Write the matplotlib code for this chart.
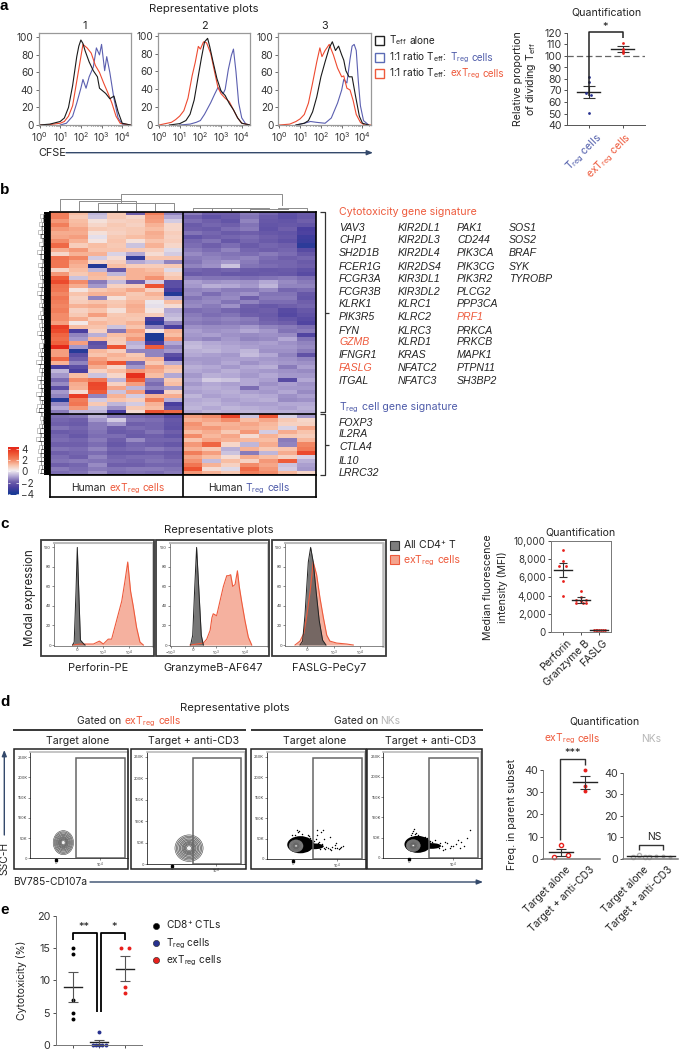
import numpy as np
import matplotlib
matplotlib.use("Agg")
import matplotlib.pyplot as plt
from matplotlib.colors import LinearSegmentedColormap
from matplotlib.patches import Ellipse, Rectangle
from matplotlib.ticker import NullFormatter, LogLocator, FuncFormatter

FONT = "Inter"
plt.rcParams["font.family"] = [FONT, "DejaVu Sans"]
plt.rcParams["mathtext.fontset"] = "custom"
plt.rcParams["mathtext.rm"] = FONT
plt.rcParams["mathtext.default"] = "regular"
plt.rcParams["axes.linewidth"] = 0.7

RED = "#ee5a3c"
BLUE = "#4f5caa"
INK = "#222222"
NAVY = "#34496b"
GREY = "#b5b5b5"
DOT_RED = "#e8201c"
DOT_BLUE = "#27318f"

# ---- panel a histograms: log10 CFSE, percent of max ----
a1_black_x = [0, .5, 1, 1.2, 1.4, 1.6, 1.8, 1.9, 2.0, 2.1, 2.2, 2.4, 2.6, 2.8, 2.9, 3.0, 3.2, 3.4, 3.6, 3.8, 4, 4.4]
a1_black_y = [0, 1, 4, 8, 20, 45, 78, 90, 97, 93, 85, 72, 62, 55, 42, 40, 36, 30, 33, 15, 2, 0]
a1_red_x = [0, .5, 1, 1.2, 1.4, 1.6, 1.8, 2, 2.1, 2.3, 2.5, 2.7, 2.9, 3.1, 3.3, 3.5, 3.7, 3.9, 4.4]
a1_red_y = [0, .5, 2, 4, 10, 22, 50, 78, 92, 88, 82, 68, 60, 48, 37, 25, 10, 2, 0]
a1_blue_x = [1, 1.3, 1.6, 1.8, 2, 2.1, 2.25, 2.4, 2.6, 2.75, 2.9, 3.0, 3.15, 3.25, 3.4, 3.6, 3.8, 4, 4.4]
a1_blue_y = [0, 2, 10, 25, 42, 52, 42, 55, 66, 88, 80, 92, 62, 78, 60, 30, 8, 1, 0]

a2_black_x = [.5, 1, 1.3, 1.5, 1.7, 1.9, 2.05, 2.2, 2.35, 2.45, 2.6, 2.8, 3, 3.2, 3.4, 3.6, 3.8, 4, 4.4]
a2_black_y = [0, 1.5, 5, 12, 28, 55, 75, 93, 97, 88, 72, 52, 38, 33, 24, 17, 8, 2, 0]
a2_red_x = [0, .4, .6, .8, 1, 1.2, 1.4, 1.6, 1.75, 1.9, 2, 2.15, 2.3, 2.5, 2.7, 2.85, 3, 3.2, 3.4, 3.6, 3.8, 4, 4.4]
a2_red_y = [0, 2, 3, 6, 10, 16, 30, 55, 70, 88, 85, 93, 92, 80, 58, 42, 35, 30, 26, 17, 8, 2, 0]
a2_blue_x = [1, 1.5, 1.8, 2, 2.2, 2.5, 2.7, 2.85, 3, 3.1, 3.2, 3.35, 3.5, 3.6, 3.72, 3.85, 4, 4.2, 4.4]
a2_blue_y = [0, 1, 3, 5, 12, 25, 35, 42, 38, 35, 40, 62, 78, 85, 60, 25, 8, 1, 0]

a3_black_x = [.8, 1.2, 1.4, 1.6, 1.8, 2, 2.2, 2.4, 2.55, 2.7, 2.85, 3, 3.1, 3.2, 3.35, 3.5, 3.65, 3.85, 4, 4.3]
a3_black_y = [0, 2, 5, 15, 32, 55, 72, 88, 95, 85, 90, 80, 74, 62, 55, 55, 35, 10, 2, 0]
a3_red_x = [0, .5, .8, 1, 1.2, 1.4, 1.6, 1.8, 1.95, 2.05, 2.2, 2.4, 2.6, 2.8, 3, 3.1, 3.25, 3.4, 3.55, 3.7, 3.9, 4.1, 4.4]
a3_red_y = [0, 1, 4, 7, 12, 25, 48, 72, 88, 78, 85, 92, 80, 65, 55, 56, 42, 40, 28, 12, 3, 0, 0]
a3_blue_x = [.8, 1.2, 1.5, 1.8, 2.2, 2.5, 2.8, 3, 3.1, 3.25, 3.4, 3.5, 3.6, 3.7, 3.8, 3.9, 4.05, 4.3]
a3_blue_y = [0, 2, 4, 3, 2, 8, 25, 40, 52, 48, 75, 90, 92, 85, 50, 22, 5, 0]

# ---- panel a quantification ----
a_q_treg = [82, 77, 68, 66, 50.5]
a_q_treg_jit = [0, 0, -.07, .07, 0]
a_q_extreg = [111, 106, 104, 103]
a_q_extreg_jit = [0, 0, 0, 0]
a_q_means = [69, 106]
a_q_sems = [5.3, 2.4]

# ---- panel b heatmap: z-scores per gene (rows) and sample (columns) ----
hm_top_left = [
 [2,1,-.8,.8,-2,2,-1.5],[2,.8,-.6,.8,.5,1.6,-1],[1.6,1,.3,.6,.7,1.5,-.5],[2,1.1,.5,.8,.6,1.2,.5],
 [1.6,1.4,.8,.7,.8,1,.5],[1.3,1.3,.3,.6,.8,1.3,.7],[1.4,1.5,-.2,.8,1,1.2,.6],[1.8,1.2,.2,.9,.3,.9,.7],
 [2.5,.7,1,.8,-.6,1.2,.5],[1.3,1.6,.9,.9,.8,.7,-.3],[.5,1.2,1.2,-.4,-1,.4,-.5],[2.3,1.9,-.5,.4,-3.5,.9,.9],
 [2.2,1.4,.5,.7,-1,-.7,-1.5],[2.2,1.2,-3.8,1,.7,.7,.8],[.5,1,-.8,-2.2,1.2,1,-.3],[1.6,.8,1.1,-.8,1.2,1.2,.6],
 [2.8,-.6,1,.8,1.2,1.7,.9],[3.2,1.8,-1.6,-.7,-2,-.5,-2.5],[2.3,1.3,-1.2,.6,.7,3,-2.5],[2.2,.2,.8,1,1.4,.6,-3],
 [1.9,.9,1.2,1.2,.8,1.2,-3.8],[2.2,.6,-1.5,.3,.9,.9,-1],[2,.7,.9,.8,1.1,-.1,1],[1.9,1.2,1.3,.9,1.3,-.2,.4],
 [2,.6,.9,.3,1.2,.2,-1],[1.8,.8,1.5,.8,.9,.7,-.8],[1.8,1.3,.7,.9,.8,-3,-.6],[1.5,.1,1.1,.9,1.2,-3.5,-1.5],
 [3.5,1,.9,-.6,.9,-1.5,-3],[3.2,-3,.6,-1.7,1.5,.2,1.2],[2.6,-1.5,-.9,1,1.2,-4,1],[2.4,-1.2,1.1,.8,1.6,-4,1.6],
 [2.7,1.5,-2.5,.7,-.9,-3,-1],[4,-1.2,-2.2,3,-.7,2.8,-1.5],[1.5,-3.7,1.1,.7,-1.5,-1.5,-1.2],[1.5,-2.5,.9,1.2,.8,-1.5,-2.5],
 [2.5,-2,1.5,1,1,1.2,-3],[1.2,-1.5,1.8,3,-1.8,.8,-1],[-3,-2.5,1.3,.5,-1.2,1.5,1],[-.8,-3,.6,1,1.6,1.3,.8],
 [-1.2,1,-.6,.5,3.8,1,-1],[-1.8,1.8,2.2,-.8,2.8,-1.5,.8],[-1.4,1.3,3.3,.6,1.5,-1.8,1],[-2.5,1.2,3.2,1.4,-.8,-1.5,-1.2],
 [-1.2,.4,2.8,-.6,1.5,-3,.6],[-1.5,3.5,-1.5,1.2,-.5,1.2,1.3],[-3.7,2,-.5,.9,.7,2,-.9],[-1.4,2.2,.8,-.8,-.5,1.2,-3],
 [-1,1.6,-.6,-1.3,.8,1,-2.5],[-1.6,-.8,-.8,-3,.4,3,2.5],
]
hm_top_right = [
 [-1.6,-2,-2,-1.6,-1.9,-2.4,-2.1],[-2,-2.4,-2.1,-1.7,-2.1,-2.5,-2.2],[-1.8,-2,-2.3,-1.5,-2.2,-2.3,-2],[-2.1,-1.9,-2,-1.7,-2.3,-2.2,-2.3],
 [-2,-2.1,-1.8,-1.6,-2.4,-2,-3],[-1.7,-1.9,-2.1,-2,-2.2,-2.3,-2.9],[-2.3,-2,-1.9,-1.8,-2,-2.2,-3.2],[-1.9,-1.7,-2.2,-1.9,-2.1,-2.4,-3.3],
 [-1.8,-2,-1.8,-2.1,-1.9,-2,-3.6],[-1.6,-1.8,-1.5,-1.9,-2,-1.9,-2.6],[-1.4,-1.6,-1.7,-1.8,-1.6,-1.8,-2.2],[-1.6,-1.5,-1.6,-1.5,-1.8,-2,-1.9],
 [-1.7,-1.4,-1.2,-1.6,-1.9,-1.9,-2.1],[-1.5,-1.3,-.6,-1.7,-1.8,-1.9,-2],[-1.9,-2,-1.9,-2.1,-2.2,-2.1,-2.4],[-2.1,-2,-2.2,-2.2,-2.1,-2.2,-2.6],
 [-1.6,-1.7,-1.7,-1.8,-1.7,-1.6,-1.8],[-1.1,-1.3,-1.2,-1.3,-1,-1.4,-1.6],[-1.2,-.9,-1,-1.2,-.8,-1.5,-1.5],[-1.5,-1.4,-1.6,-1.6,-1.4,-1.9,-1.8],
 [-1.4,-1.8,-1.5,-1.3,-1.7,-1.7,-2.2],[-1.7,-1.5,-1.4,-2,-1.6,-1.6,-2.3],[-1.5,-1.4,-1.7,-1.5,-1.8,-1.8,-2],[-1.4,-1.6,-1.3,-2,-2.2,-2,-1.9],
 [-1.8,-1.7,-1.9,-2.1,-2,-2.6,-2.2],[-1.6,-1.8,-1.7,-2,-2.1,-2.7,-2.4],[-1.5,-1.6,-1.5,-1.6,-2,-2.3,-2.6],[-1.6,-1.7,-1.6,-1.7,-1.9,-2,-2.8],
 [-1.3,-1.4,-1.4,-1.2,-1.5,-1.6,-1.8],[-1.1,-1.3,-1.2,-1,-1.2,-1.7,-1.6],[-1.2,-1.1,-1.3,-1.4,-1.3,-1.4,-2.8],[-1.3,-1.5,-1.2,-1.5,-1.4,-1,-1.7],
 [-.8,-1,-1.1,-1.2,-1.1,-1.3,-1.5],[-.7,-.9,-1,-1.1,-1.2,-1.2,-1.4],[-.9,-.8,-1,-.8,-1.3,-1.3,-1.6],[-1,-1.1,-1.2,-.7,-1,-1.5,-2.4],
 [-1.2,-1.2,-1.1,-1.1,-1.2,-1.3,-1.5],[-1.1,-1.2,-1,-1.3,-1.1,-1.2,-1.3],[-.9,-1,-1.2,-1,-.9,-1.6,-1.1],[-1,-1.1,-.9,-1.1,-1.2,-1.3,-1.4],
 [-1.2,-.9,-1,-1.2,-1,-1.2,-1.2],[-1,-.5,-.6,-1,-1.1,-2.6,-1],[-1.2,-1,-1.1,-1,-1.3,-1.1,-1.3],[-1,-.9,-1,-1.8,-1.1,-1.2,-1.2],
 [-1.1,-1,-.9,-1.1,-1.2,-1,-1.4],[-.8,-1.1,-1,-.9,-1,-1.3,-1.1],[-1,-.9,-1.1,-1,-.9,-1.4,-1.3],[-.9,-.8,-1,-1.1,-1.1,-1,-1],
 [-.8,-1,-.8,-.9,-1,-1.1,-.9],[-1,-.8,-.9,-.8,-.9,-.9,-1],
]
hm_bot_left = [
 [-1.8,-1.7,-.9,-1.7,-1.9,-2,-2.6],[-1.9,-2,-1.2,-.5,-1.7,-1.8,-2.2],[-2,-2.1,-1.6,-1.2,-2,-1.9,-2.3],[-1.7,-1.9,-1.6,-2,-1.8,-1.9,-2.4],
 [-2.1,-2,-1.7,-2.1,-2,-1.7,-2],[-1.9,-2.2,-1.8,-1.8,-2.1,-2,-2.3],[-1.8,-1.9,-1.6,-2,-1.4,-1.9,-1.9],[-2,-2,-1.8,-2.2,-1.9,-2,-2.2],
 [-1.7,-1.8,-1.5,-1.9,-1.8,-1.6,-1.8],[-2,-1.9,-1.8,-2.1,-2.1,-2,-2.1],[-1.8,-2,-1.5,-1.9,-1.8,-1.8,-2],[-1.7,-1.6,-1.7,-1.8,-1.9,-1.7,-1.8],
 [-2,-1.9,-1.4,-2,-2,-1.9,-1.9],[-1.6,-1.8,-1.6,-1.7,-1.6,-1.6,-1.7],[-1.8,-1.7,-1.3,-1.8,-1.7,-1.8,-1.6],
]
hm_bot_right = [
 [1.5,1.8,3.4,-.6,3,-.4,-1.2],[1.2,1.4,1.8,1,1.4,.8,.5],[1.7,1.1,1.2,1.4,1.1,.6,.6],[1.5,1.6,1.3,1.2,1,-.4,1.4],
 [1,1.3,.8,1.6,-.5,1.3,.9],[1.8,1.1,1.4,.4,1.2,.8,.7],[.9,1.4,1.2,1.1,1,-1.6,1.1],[1.6,2.6,.5,-.8,1.3,-1.5,1.9],
 [1.2,.8,-.9,1.2,.8,.9,2.1],[2,1.5,-.6,-1.6,-.8,1.3,3.2],[1.4,1,.4,1.3,1,.6,-.4],[1.7,-.7,1,.6,1.6,2.8,-.9],
 [2.2,1.2,.6,1.8,1.4,-.6,-1.1],[3,.4,-.3,2.5,1.6,-.5,-1.2],[1.6,1.2,.8,2,1.8,1.1,.5],
]
row_dendro_depth = [6,8,7,9,7,10,8,6,9,7,11,8,6,10,7,9,8,6,10,7,11,8,7,9,6,8,10,7,9,8,11,7,6,9,8,10,7,12,8,9,
                    7,11,8,10,7,12,9,8,11,12,6,8,7,9,11,8,12,7,9,10,8,11,7,9,10]
dendro_left = [(0,3.25,.70,0,.45),(1,4,.58,0,.50),(2,4,.50,0,.48),(3,4.5,.48,0,.45),(4,5.5,.45,0,.46),(5,6,.46,0,0)]
dendro_right = [(7,10,.17,0,.16),(8,10.5,.16,0,.15),(9,11,.15,0,.14),(10,12,.14,0,.20),(11.5,13,.20,.14,0)]
dendro_root = (3.25, 11.7, 1.0, .70, .33)
cytotox_genes = [
 ["VAV3","CHP1","SH2D1B","FCER1G","FCGR3A","FCGR3B","KLRK1","PIK3R5","FYN","GZMB","IFNGR1","FASLG","ITGAL"],
 ["KIR2DL1","KIR2DL3","KIR2DL4","KIR2DS4","KIR3DL1","KIR3DL2","KLRC1","KLRC2","KLRC3","KLRD1","KRAS","NFATC2","NFATC3"],
 ["PAK1","CD244","PIK3CA","PIK3CG","PIK3R2","PLCG2","PPP3CA","PRF1","PRKCA","PRKCB","MAPK1","PTPN11","SH3BP2"],
 ["SOS1","SOS2","BRAF","SYK","TYROBP"],
]
highlight_genes = ["GZMB", "FASLG", "PRF1"]
treg_genes = ["FOXP3","IL2RA","CTLA4","IL10","LRRC32"]

# ---- panel c histograms: axis units (0 = 0, 1 = 10^3, 2 = 10^4), percent of max ----
c1_grey_x = [-.18,-.12,-.05,0,.05,.12,.25,.3]
c1_grey_y = [0,3,55,100,60,5,1,0]
c1_red_x = [-.18,.1,.62,.85,1.0,1.19,1.32,1.51,1.71,1.83,1.94,2.05,2.15,2.28,2.41,2.54]
c1_red_y = [0,1,1,4,1,6,6,25,45,65,85,55,40,18,3,0]
c2_grey_x = [-.08,0,.08,.15,.23,.33,.41]
c2_grey_y = [0,10,60,100,60,10,0]
c2_red_x = [-.1,.41,.54,.67,.74,.79,.92,1.05,1.18,1.31,1.38,1.46,1.54,1.63,1.72,1.79,1.88,2.01,2.14,2.27]
c2_red_y = [0,2,6,15,28,32,30,45,60,71,71,72,60,62,76,60,45,25,8,0]
c3_grey_x = [-.27,-.17,-.08,.05,.14,.24,.35,.47,.6,.73]
c3_grey_y = [0,4,30,85,100,85,55,25,5,0]
c3_red_x = [-.46,-.27,-.12,-.01,.12,.24,.37,.5,.63,.76,.88,1.14,1.53,1.78]
c3_red_y = [0,4,12,30,55,85,72,48,28,10,4,2,1,0]

# ---- panel c quantification ----
c_q_cats = ["Perforin", "Granzyme B", "FASLG"]
c_q_perforin = [9000, 7800, 7300, 7300, 5600, 3950]
c_q_perforin_jit = [0, 0, -.2, .2, 0, 0]
c_q_gzmb = [4500, 3800, 3500, 3500, 3400, 3150, 3150, 3200]
c_q_gzmb_jit = [0, 0, -.25, .25, 0, -.3, .3, .1]
c_q_fasl = [200, 210, 190, 220, 200, 180, 230]
c_q_fasl_jit = [-.3, -.2, -.1, 0, .1, .2, .3]
c_q_means = [6800, 3500, 200]
c_q_sems = [750, 300, 15]

# ---- panel d flow scatter (axis units: x 1 = 10^4, y in thousands) ----
d3_x = [.3,.45,.5,.6,.62,.7,.75,.8,.85,.9,.95,1,1.05,1.1,1.15,.55,.65,.72,.85,.95,.6,.52,.58,.66,.74,.88,.98,1.08,.4,.42,.44,.36,.34,.48,.2,.15,.1,.05,-.02,.12,.22,.3,.68,.56]
d3_y = [45,40,32,30,25,28,30,27,25,30,27,27,25,30,32,70,65,50,55,35,42,48,38,36,24,22,38,28,52,46,34,56,60,44,62,68,70,58,60,66,55,50,72,60]
d4_x = [.3,.35,.42,.5,.55,.6,.68,.75,.8,.86,.92,1,1.05,1.1,1.18,1.25,1.3,1.38,.1,.05,.15,.2,.25,.4,.46,.52,.58,.64,.7,.82,.95,1.15,.08,.12,.03,.28,.36,.44,.33,.76]
d4_y = [42,38,35,32,30,28,25,30,22,36,25,28,35,45,38,30,50,68,72,60,62,55,50,48,42,38,45,30,36,40,30,25,65,58,55,45,52,36,22,20]
d_ytick_vals = [0, 50, 100, 150, 200, 250]

# ---- panel d quantification ----
d_q_cats = ["Target alone", "Target + anti-CD3"]
d_l_alone = [6, .8, 1.7]
d_l_alone_jit = [0, -.3, .3]
d_l_anti = [40, 33, 30.5]
d_l_means = [2.8, 34.5]
d_l_sems = [1.7, 3]
d_r_alone = [1.7, 1, 1, 1]
d_r_alone_jit = [0, -.25, .25, .4]
d_r_anti = [1.5, 1.2, 1]
d_r_anti_jit = [0, -.3, .3]
d_r_means = [1.4, 1.4]
d_r_sems = [.2, .1]

# ---- panel e ----
e_cd8 = [15, 14, 7, 5, 4]
e_treg = [2, 0, 0, 0, 0, 0]
e_treg_jit = [0, -.25, -.12, 0, .12, .25]
e_ext = [15, 15, 9, 8]
e_ext_jit = [-.15, .15, 0, 0]
e_means = [9, .4, 11.8]
e_sems = [2.3, .4, 1.9]

# ---------------------------------------------------------------------
W, H = 680, 1050
fig = plt.figure(figsize=(W / 100, H / 100), dpi=100, facecolor="white")
ov = fig.add_axes([0, 0, 1, 1], zorder=10)
ov.set_xlim(0, W); ov.set_ylim(H, 0); ov.axis("off"); ov.patch.set_alpha(0)
renderer = fig.canvas.get_renderer()


def axpx(x, y, w, h, **kw):
    return fig.add_axes([x / W, 1 - (y + h) / H, w / W, h / H], **kw)


def T(x, y, s, size=7.4, color=INK, ha="left", **kw):
    return ov.text(x, y + size * 0.50, s, fontsize=size, color=color, ha=ha, va="baseline", **kw)


def rich(x, y, parts, size=7.4, ha="left"):
    ws = []
    for s, c in parts:
        t = T(0, 0, s.strip(), size=size)
        w = t.get_window_extent(renderer).width
        t.remove()
        ws.append(w + (size * 0.38 if s.endswith(" ") else 0))
    total = sum(ws)
    cx = x - total / 2 if ha == "center" else x
    for (s, c), w in zip(parts, ws):
        T(cx, y, s.strip(), size=size, color=c)
        cx += w


def L(xs, ys, color="black", lw=1.0, **kw):
    ov.plot(xs, ys, color=color, lw=lw, solid_capstyle="butt", **kw)


def arrow(x0, y0, x1, y1):
    ov.annotate("", xy=(x1, y1), xytext=(x0, y0),
                arrowprops=dict(arrowstyle="-|>,head_width=0.14,head_length=0.35", color=NAVY, lw=1.0,
                                shrinkA=0, shrinkB=0))


for lab, yy in zip("abcde", [6, 190, 524, 701, 910]):
    ov.text(0, yy + 4.5, lab, fontsize=11, fontweight="bold", color="black", ha="left", va="baseline",
            family=["Liberation Sans"])

# ---- panel a ----
T(204, 8, "Representative plots", ha="center", size=8.1)
a_rects = [(38.5, 33, 92), (158, 33, 92), (278.3, 33, 92.5)]
a_series = [(a1_black_x, a1_black_y, a1_blue_x, a1_blue_y, a1_red_x, a1_red_y),
            (a2_black_x, a2_black_y, a2_blue_x, a2_blue_y, a2_red_x, a2_red_y),
            (a3_black_x, a3_black_y, a3_blue_x, a3_blue_y, a3_red_x, a3_red_y)]
a_ytop = [105, 103, 105]
for i, ((x, y, w), s) in enumerate(zip(a_rects, a_series)):
    ax = axpx(x, y, w, 92)
    ax.plot(10 ** np.array(s[2]), s[3], color="#5b5fb0", lw=.8)
    ax.plot(10 ** np.array(s[4]), s[5], color="#ee4a30", lw=.8)
    ax.plot(10 ** np.array(s[0]), s[1], color="#1a1a1a", lw=.8)
    ax.set_xscale("log")
    ax.set_xlim(10 ** -.05, 10 ** 4.4)
    ax.set_ylim(0, a_ytop[i])
    ax.set_yticks(range(0, 101, 20))
    ax.set_xticks([1, 10, 100, 1000, 10000])
    ax.xaxis.set_minor_locator(LogLocator(base=10, subs=np.arange(2, 10), numticks=12))
    ax.xaxis.set_minor_formatter(NullFormatter())
    ax.tick_params(axis="both", labelsize=7.2, length=2, width=.5, pad=1.5, colors="#333333")
    ax.tick_params(axis="x", which="minor", length=1, width=.4)
    for sp in ax.spines.values():
        sp.set_color("#999999"); sp.set_linewidth(.9)
    T(x + w * .5, 25, str(i + 1), ha="center", size=7.8)
T(38, 152.5, "CFSE", size=7.8)
arrow(66, 152.7, 373, 152.7)
leg_y = [40, 57, 73]
leg_c = ["#222222", "#5b6bb5", RED]
for yy, c in zip(leg_y, leg_c):
    ov.add_patch(Rectangle((375, yy - 4.5), 9, 9, fill=False, ec=c, lw=1))
rich(389, 40, [(r"T$_{\mathrm{eff}}$ ", INK), ("alone", INK)], size=7.2)
rich(389, 57, [(r"1:1 ratio T$_{\mathrm{eff}}$: ", INK), (r"T$_{\mathrm{reg}}$ ", BLUE), ("cells", BLUE)], size=7.2)
rich(389, 73, [(r"1:1 ratio T$_{\mathrm{eff}}$: ", INK), (r"exT$_{\mathrm{reg}}$ ", RED), ("cells", RED)], size=7.2)

T(606, 12, "Quantification", ha="center", size=7.6)
ax = axpx(567.3, 33, 77.7, 92)
ax.set_xlim(-.63, 1.656); ax.set_ylim(40, 120)
ax.axhline(100, color="#666666", lw=.9, dashes=(5, 2.5))
ax.scatter(np.zeros(5) + a_q_treg_jit, a_q_treg, s=4, color=DOT_BLUE, zorder=3, lw=0)
ax.scatter(np.ones(4) + a_q_extreg_jit, a_q_extreg, s=4, color=DOT_RED, zorder=3, lw=0)
for k in range(2):
    ax.plot([k - .33, k + .33], [a_q_means[k]] * 2, color="#222222", lw=1)
    ax.errorbar(k, a_q_means[k], yerr=a_q_sems[k], color="#333333", capsize=4.2, lw=.8, capthick=.8)
ax.set_xticks([0, 1]); ax.set_xticklabels([])
ax.set_yticks(range(40, 121, 10))
ax.tick_params(labelsize=7.6, length=2.5, width=.6, pad=1.5, colors="#333333")
ax.spines["top"].set_visible(False); ax.spines["right"].set_visible(False)
for sp in ("left", "bottom"):
    ax.spines[sp].set_color("#555555")
L([588.7, 588.7, 622.7, 622.7], [96, 32, 32, 38], lw=1.1, color="#222222")
T(605.5, 26.5, "*", ha="center", size=8)
ov.text(595, 131, r"T$_{\mathrm{reg}}$ cells", rotation=45, rotation_mode="anchor", ha="right", va="top", fontsize=7.6, color=BLUE)
ov.text(625, 131, r"exT$_{\mathrm{reg}}$ cells", rotation=45, rotation_mode="anchor", ha="right", va="top", fontsize=7.6, color=RED)
ov.text(517.7, 79, "Relative proportion", rotation=90, ha="center", va="center", fontsize=7.6, color=INK)
ov.text(531, 79, r"of dividing T$_{\mathrm{eff}}$", rotation=90, ha="center", va="center", fontsize=7.6, color=INK)

# ---- panel b ----
hm_cmap = LinearSegmentedColormap.from_list("hm", [
    (0, "#1a3a96"), (.125, "#4a3f9f"), (.25, "#6f5fab"), (.375, "#b3a8d4"), (.5, "#f3eef0"),
    (.625, "#f9c0a6"), (.75, "#f2805c"), (.875, "#ee5533"), (1, "#e5291a")])
matrix = np.vstack([np.hstack([hm_top_left, hm_top_right]), np.hstack([hm_bot_left, hm_bot_right])])
ax = axpx(50, 212, 266, 263)
ax.imshow(matrix, cmap=hm_cmap, vmin=-4, vmax=4, aspect="auto", interpolation="nearest")
ax.axvline(6.5, color="black", lw=1.2); ax.axhline(49.5, color="black", lw=1.2)
ax.set_xticks([]); ax.set_yticks([])
for sp in ax.spines.values():
    sp.set_linewidth(1.2)

ax = axpx(50, 475, 266, 22)
ax.set_xlim(0, 2); ax.set_ylim(0, 1); ax.axvline(1, color="black", lw=1.2)
ax.set_xticks([]); ax.set_yticks([])
for sp in ax.spines.values():
    sp.set_linewidth(1.2)
rich(118, 487, [("Human ", INK), (r"exT$_{\mathrm{reg}}$ ", RED), ("cells", RED)], ha="center", size=7.4)
rich(249, 487, [("Human ", INK), (r"T$_{\mathrm{reg}}$ ", BLUE), ("cells", BLUE)], ha="center", size=7.4)

ax = axpx(50, 194, 266, 17)
ax.set_xlim(-.5, 13.5); ax.set_ylim(0, 1); ax.axis("off")
for a, b, h, ha_, hb_ in dendro_left + dendro_right + [dendro_root]:
    ax.plot([a, a, b, b], [ha_, h, h, hb_], color="#8c8c8c", lw=.7)

ax = axpx(33, 212, 17, 263)
depth = np.array(row_dendro_depth, dtype=float)
ax.set_xlim(-17, 0); ax.set_ylim(len(depth) - .5, -.5); ax.axis("off")
ax.add_patch(Rectangle((-6, -.5), 6, len(depth), color="black", lw=0))
rows = np.arange(len(depth))
ax.step(-depth, rows, where="mid", color="#777777", lw=.5)
ax.step(-depth - 2, rows, where="post", color="#999999", lw=.4)
ax.hlines(rows, -depth, -5, color="#222222", lw=.5)

ax = axpx(7.5, 447, 11, 48.5)
ax.imshow(np.linspace(4.3, -4.3, 200)[:, None], cmap=hm_cmap, vmin=-4, vmax=4, aspect="auto", extent=(0, 1, -4.3, 4.3))
ax.set_xticks([]); ax.yaxis.tick_right()
ax.set_yticks([4, 2, 0, -2, -4])
ax.set_yticklabels(["4", "2", "0", "\u22122", "\u22124"])
ax.tick_params(axis="y", labelsize=7.2, length=0, pad=2, colors="#333333")
ax.hlines([4, 2, 0, -2, -4], .75, 1, color="white", lw=.5)
ax.hlines([4, 2, 0, -2, -4], 0, .25, color="white", lw=.5)
for sp in ax.spines.values():
    sp.set_visible(False)

T(339, 211, "Cytotoxicity gene signature", color=RED, size=7.6)
gene_y = [227.3, 239.3, 252.3, 265.7, 277.7, 291, 303.3, 316.3, 329.7, 341.3, 354.7, 367, 380]
gene_x = [339, 398, 457, 509]
for col, gx in zip(cytotox_genes, gene_x):
    for g, gy in zip(col, gene_y):
        T(gx, gy, g, color=RED if g in highlight_genes else INK, style="italic", family=["Liberation Sans"], size=7.6)
rich(339, 406.7, [(r"T$_{\mathrm{reg}}$ ", BLUE), ("cell gene signature", BLUE)], size=7.6)
for g, gy in zip(treg_genes, [421.7, 433.3, 446.7, 460, 472.3]):
    T(339, gy, g, style="italic", family=["Liberation Sans"], size=7.6)
L([320, 325, 325, 320], [212, 212, 411.5, 411.5], lw=.9, color="#333333")
L([325, 329], [312.7, 312.7], lw=.9, color="#333333")
L([320, 325, 325, 320], [414, 414, 475, 475], lw=.9, color="#333333")
L([325, 329], [445, 445], lw=.9, color="#333333")

# ---- panel c ----
T(219, 528.5, "Representative plots", ha="center", size=8.1)
frames_c = [(41, 540, 113, 116), (156, 540, 113, 116), (272, 540, 114, 116)]
for fx, fy, fw, fh in frames_c:
    ov.add_patch(Rectangle((fx, fy), fw, fh, fill=False, ec="#3a3a3a", lw=1.3))
c_inner = [(54, 98.7, 77.3), (170, 97.7, 192.7), (285, 97.7, 307)]
c_series = [(c1_grey_x, c1_grey_y, c1_red_x, c1_red_y), (c2_grey_x, c2_grey_y, c2_red_x, c2_red_y),
            (c3_grey_x, c3_grey_y, c3_red_x, c3_red_y)]
c_xticks = [([0, 1, 2], ["0", "$10^3$", "$10^4$"]),
            ([-.85, 0, .9, 2], ["$-10^3$", "0", "$10^3$", "$10^4$"]),
            ([0, 1.05, 2.05], ["0", "$10^3$", "$10^4$"])]
for (lx, w, zero), s, (tk, tl) in zip(c_inner, c_series, c_xticks):
    ax = axpx(lx, 543, w, 102.7)
    ax.set_facecolor("white")
    ax.fill_between(s[2], s[3], color="#f4a48e", alpha=.85, lw=0)
    ax.plot(s[2], s[3], color=RED, lw=.8)
    ax.fill_between(s[0], s[1], color="#555555", alpha=.8, lw=0)
    ax.plot(s[0], s[1], color="#222222", lw=.7)
    ax.set_xlim((lx - zero) / 26, (lx + w - zero) / 26)
    ax.set_ylim(-.7, 104.5)
    ax.set_yticks(range(0, 101, 20))
    ax.set_xticks(tk); ax.set_xticklabels(tl)
    ax.tick_params(labelsize=3, length=1.2, width=.4, pad=.8, colors="#333333")
    ax.spines["top"].set_color("#bbbbbb"); ax.spines["right"].set_color("#bbbbbb")
    ax.spines["top"].set_linewidth(1.5); ax.spines["right"].set_linewidth(1.8)
    ax.spines["left"].set_color("#555555"); ax.spines["bottom"].set_color("#555555")
    ax.spines["left"].set_linewidth(.5); ax.spines["bottom"].set_linewidth(.5)
ov.text(30, 598, "Modal expression", rotation=90, ha="center", va="center", fontsize=8.3, color=INK)
for cx, s in zip([98, 213, 329], ["Perforin-PE", "GranzymeB-AF647", "FASLG-PeCy7"]):
    T(cx, 667, s, ha="center", size=7.9)
ov.add_patch(Rectangle((390, 541), 9, 9, fc="#7d7d7d", ec="#333333", lw=.8))
ov.add_patch(Rectangle((390, 555), 9, 9, fc="#f4a48e", ec=RED, lw=.8))
T(403, 545.5, r"All CD4$^{+}$ T", size=7.6)
rich(403, 559.5, [(r"exT$_{\mathrm{reg}}$ ", RED), ("cells", RED)], size=7.6)

T(581, 532, "Quantification", ha="center", size=7.6)
ax = axpx(550.7, 541, 60.3, 91)
ax.set_xlim(-.656, 2.64); ax.set_ylim(0, 10000)
ax.scatter(np.zeros(6) + c_q_perforin_jit, c_q_perforin, s=4, color=DOT_RED, lw=0, zorder=2)
ax.scatter(np.ones(8) + c_q_gzmb_jit, c_q_gzmb, s=4, color=DOT_RED, lw=0, zorder=2)
ax.scatter(2 * np.ones(7) + c_q_fasl_jit, c_q_fasl, s=4, color=DOT_RED, lw=0, zorder=2)
for k in range(3):
    ax.plot([k - .5, k + .5], [c_q_means[k]] * 2, color="#222222", lw=1, zorder=3)
    ax.errorbar(k, c_q_means[k], yerr=c_q_sems[k], color="#333333", capsize=3.2, lw=.8, capthick=.8, zorder=3)
ax.set_xticks([0, 1, 2]); ax.set_xticklabels([])
ax.set_yticks(range(0, 10001, 2000))
ax.yaxis.set_major_formatter(FuncFormatter(lambda v, p: f"{int(v):,}"))
ax.tick_params(labelsize=7.1, length=2, width=.6, pad=1.5, colors="#333333")
for sp in ax.spines.values():
    sp.set_color("#777777")
for k, c in enumerate(c_q_cats):
    ov.text(566 + 18.3 * k, 638, c, rotation=45, rotation_mode="anchor", ha="right", va="top", fontsize=7.5, color=INK)
ov.text(488, 587, "Median fluorescence", rotation=90, ha="center", va="center", fontsize=7.6, color=INK)
ov.text(502, 587, "intensity (MFI)", rotation=90, ha="center", va="center", fontsize=7.6, color=INK)

# ---- panel d ----
T(235, 706.7, "Representative plots", ha="center", size=8.1)
rich(129, 720.7, [("Gated on ", INK), (r"exT$_{\mathrm{reg}}$ ", RED), ("cells", RED)], ha="center")
rich(367, 720.7, [("Gated on ", INK), ("NKs", GREY)], ha="center")
L([13, 246], [729.5, 729.5], lw=1.1)
L([250.7, 483], [729.5, 729.5], lw=1.1)
for cx, s in zip([78, 194, 315, 431], ["Target alone", "Target + anti-CD3", "Target alone", "Target + anti-CD3"]):
    T(cx, 740, s, ha="center", size=7.6)
frames_d = [(14, 749, 114.3, 120), (131, 749, 114.7, 120), (250.7, 749, 115, 120), (367, 749, 115, 120)]
for fx, fy, fw, fh in frames_d:
    ov.add_patch(Rectangle((fx, fy), fw, fh, fill=False, ec="#222222", lw=1.1))
# left, right, top, bottom in px; zero of x, px per y-thousand; gate limits
d_geo = [(30, 127.7, 752.3, 858.3, 56, .405, .45, 1.56),
         (146.7, 244.7, 752.3, 864, 172.3, .428, .46, 1.56),
         (266.7, 365, 752.3, 859, 292.7, .408, .47, 1.57),
         (383.3, 481.3, 752.3, 857.7, 409.3, .404, .45, 1.55)]
d_cont = [(.167, 38.7, .23, 29.6), (.38, 37, .32, 31), (.076, 32, .16, 15), (.09, 30, .16, 15)]
contour_levels = [1, .9, .8, .7, .6, .5, .42, .34, .26, .18]
contour_fill = ["#e4e4e4", "#c8c8c8", "#d8d8d8", "#b8b8b8", "#cccccc", "#aaaaaa", "#bcbcbc", "#a4a4a4", "#d0d0d0", "#f0f0f0"]
UX = 44.0
for i, (l, r, t, b, x0, ys, g0, g1) in enumerate(d_geo):
    ax = axpx(l, t, r - l, b - t)
    ax.set_xlim((l - x0) / UX, (r - x0) / UX)
    ax.set_ylim(0, (b - t) / ys)
    ax.add_patch(Rectangle((g0, 0), g1 - g0, 248, fill=False, ec="#666666", lw=1.1, zorder=5))
    cx, cy, rx, ry = d_cont[i]
    if i >= 2:
        pts = (d3_x, d3_y) if i == 2 else (d4_x, d4_y)
        ax.add_patch(Ellipse((cx + .1, cy + 3), .6, 42, color="black", lw=0))
        ax.add_patch(Ellipse((cx + .42, cy - 1), .42, 14, color="black", lw=0))
        ax.scatter(pts[0], pts[1], s=1.1, color="black", lw=0)
    for lev, fc in zip(contour_levels, contour_fill):
        ax.add_patch(Ellipse((cx, cy), 2 * rx * lev, 2 * ry * lev, fc=fc, ec="#4a4a4a", lw=.4))
    ax.set_yticks(d_ytick_vals)
    ax.set_yticklabels(["0", "50K", "100K", "150K", "200K", "250K"])
    ax.set_xticks([0, 1]); ax.set_xticklabels(["0", "$10^4$"])
    ax.tick_params(labelsize=2.8, length=1.2, width=.4, pad=.7, colors="#333333")
    ax.plot([0], [-4], marker="s", ms=1.8, color="black", clip_on=False)
    ax.spines["top"].set_color("#bbbbbb"); ax.spines["right"].set_color("#bbbbbb")
    ax.spines["top"].set_linewidth(1.2); ax.spines["right"].set_linewidth(1.2)
    ax.spines["left"].set_linewidth(.5); ax.spines["bottom"].set_linewidth(.5)
ov.text(4, 858, "SSC-H", rotation=90, ha="center", va="center", fontsize=7.4, color=INK)
arrow(4.3, 835, 4.3, 750)
T(13, 881, "BV785-CD107a")
arrow(90, 882, 483, 882)

T(604, 720.7, "Quantification", ha="center", size=7.6)
rich(572, 738, [(r"exT$_{\mathrm{reg}}$ ", RED), ("cells", RED)], ha="center")
T(651, 738, "NKs", color=GREY, ha="center")
ax = axpx(543.3, 770, 56.7, 88.7)
ax.set_xlim((543.3 - 560.7) / 24, (600 - 560.7) / 24); ax.set_ylim(0, 40)
ax.scatter(np.zeros(3) + d_l_alone_jit, d_l_alone, s=9, fc="white", ec=DOT_RED, lw=1, zorder=2, clip_on=False)
ax.scatter(np.ones(3), d_l_anti, s=8, color=DOT_RED, lw=0, zorder=2, clip_on=False)
for k in range(2):
    ax.plot([k - .5, k + .5], [d_l_means[k]] * 2, color="#222222", lw=1, zorder=3)
    ax.errorbar(k, d_l_means[k], yerr=d_l_sems[k], color="#333333", capsize=3.6, lw=.8, capthick=.8, zorder=3)
ax.set_xticks([]); ax.set_yticks([0, 10, 20, 30, 40])
ax.tick_params(labelsize=7.8, length=2, width=.6, pad=1.5, colors="#333333")
ax.spines["top"].set_visible(False); ax.spines["right"].set_visible(False)
ax.spines["left"].set_color("#777777"); ax.spines["bottom"].set_color("#777777")
ax.spines["bottom"].set_linewidth(1.1)
L([560, 560, 584.7, 584.7], [840, 758.5, 758.5, 765], lw=1, color="#333333")
T(573, 752, "***", ha="center", size=8)

ax = axpx(622.7, 772.7, 55.3, 86.3)
ax.set_xlim((622.7 - 639) / 24, (678 - 639) / 24); ax.set_ylim(0, 40)
ax.scatter(np.zeros(4) + d_r_alone_jit, d_r_alone, s=9, fc="white", ec=GREY, lw=1, zorder=2, clip_on=False)
ax.scatter(np.ones(3) + d_r_anti_jit, d_r_anti, s=8, color=GREY, lw=0, zorder=2, clip_on=False)
for k in range(2):
    ax.plot([k - .5, k + .5], [d_r_means[k]] * 2, color="#222222", lw=1, zorder=3)
ax.set_xticks([]); ax.set_yticks([0, 10, 20, 30, 40])
ax.tick_params(labelsize=7.8, length=2, width=.6, pad=1.5, colors="#333333")
ax.spines["top"].set_visible(False); ax.spines["right"].set_visible(False)
ax.spines["left"].set_color("#777777"); ax.spines["bottom"].set_color("#777777")
ax.spines["bottom"].set_linewidth(1.1)
L([639, 639, 663, 663], [850, 844.5, 844.5, 850], lw=1, color="#333333")
T(654.5, 836.5, "NS", ha="center")
for base in (565, 643.5):
    for k, c in enumerate(d_q_cats):
        ov.text(base + 24 * k, 865, c, rotation=45, rotation_mode="anchor", ha="right", va="top", fontsize=7.4, color=INK)
ov.text(511.7, 814, "Freq. in parent subset", rotation=90, ha="center", va="center", fontsize=7.7, color=INK)

# ---- panel e ----
ax = axpx(55.7, 915.7, 86.3, 129.3)
ax.set_xlim((55.7 - 73) / 26, (142 - 73) / 26); ax.set_ylim(0, 20)
ax.scatter(np.zeros(5), e_cd8, s=8, color="black", lw=0, zorder=2, clip_on=False)
ax.scatter(np.ones(6) + e_treg_jit, e_treg, s=8, color=DOT_BLUE, lw=0, zorder=2, clip_on=False)
ax.scatter(2 * np.ones(4) + e_ext_jit, e_ext, s=8, color=DOT_RED, lw=0, zorder=2, clip_on=False)
for k in range(3):
    ax.plot([k - .33, k + .33], [e_means[k]] * 2, color="#222222", lw=1, zorder=3)
    ax.errorbar(k, e_means[k], yerr=e_sems[k], color="#555555", capsize=3.6, lw=.8, capthick=.8, zorder=3)
ax.set_xticks([0, 1, 2]); ax.set_xticklabels([])
ax.set_yticks([0, 5, 10, 15, 20])
ax.tick_params(labelsize=7.8, length=2.5, width=.6, pad=1.5, colors="#333333")
ax.spines["top"].set_visible(False); ax.spines["right"].set_visible(False)
ax.spines["left"].set_color("#777777"); ax.spines["bottom"].set_color("#777777")
L([73, 73, 97, 97], [940, 932.7, 932.7, 1012.3], lw=1.3)
L([101, 101, 125, 125], [1012.3, 932.7, 932.7, 940], lw=1.3)
T(83.7, 926.5, "**", ha="center", size=8)
T(113.7, 926.5, "*", ha="center", size=8)
ov.text(21.7, 980, "Cytotoxicity (%)", rotation=90, ha="center", va="center", fontsize=7.5, color=INK)
for yy, c, s in zip([925.7, 943, 960], ["black", "#27318f", "#e8201c"],
                    [r"CD8$^{+}$ CTLs", r"T$_{\mathrm{reg}}$ cells", r"exT$_{\mathrm{reg}}$ cells"]):
    ov.scatter([156], [yy], s=20, color=c, ec="#222222", lw=.4)
    T(166, yy, s, size=7.3)

fig.savefig("out.png", dpi=100)
